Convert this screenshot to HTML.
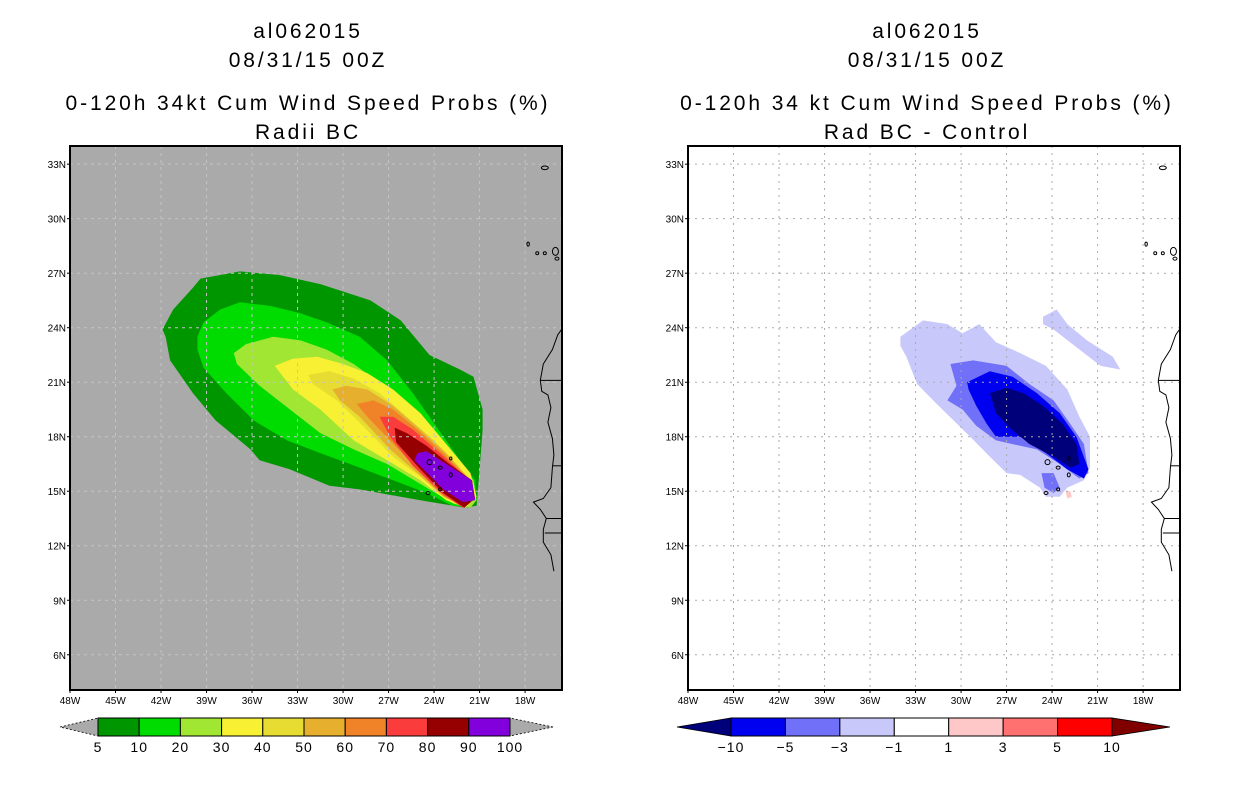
<!DOCTYPE html>
<html><head><meta charset="utf-8">
<style>
body{margin:0;background:#fff;}
svg text{font-family:"Liberation Sans",sans-serif;}
</style></head>
<body>
<svg id="chart" width="1236" height="800" viewBox="0 0 1236 800" xmlns="http://www.w3.org/2000/svg">
<g font-size="21" text-anchor="middle" fill="#000" letter-spacing="2.9">
<text x="308" y="38">al062015</text>
<text x="308" y="67">08/31/15 00Z</text>
<text x="308" y="110">0-120h 34kt Cum Wind Speed Probs (%)</text>
<text x="308" y="139">Radii BC</text>
<text x="927" y="38">al062015</text>
<text x="927" y="67">08/31/15 00Z</text>
<text x="927" y="110">0-120h 34 kt Cum Wind Speed Probs (%)</text>
<text x="927" y="139">Rad BC - Control</text>
</g>
<g id="left"></g>
<g id="right"></g>
<g id="cbars"></g>
</svg>
<script>
// ---- data ----
const latTicks=[33,30,27,24,21,18,15,12,9,6];
const lonTicks=[-48,-45,-42,-39,-36,-33,-30,-27,-24,-21,-18];
const leftLevels=[5,10,20,30,40,50,60,70,80,90,100];
const leftColors=['#009600','#00dc00','#a0e632','#f8f032','#e6dc32','#e6af2d','#f08228','#fa3c3c','#960000','#8200dc'];
const rightLevels=[-10,-5,-3,-1,1,3,5,10];
const rightColors=['#00007a','#0000f0','#7070f8','#c8c8fa','#ffffff','#ffc8c8','#ff7070','#ff0000','#800000'];
const prob5=[[-41.9,23.9],[-41.2,25.0],[-39.9,26.2],[-39.4,26.7],[-36.8,27.1],[-34.2,26.9],[-31.5,26.4],[-28.2,25.5],[-26.2,24.4],[-24.3,22.5],[-22.3,21.7],[-21.4,21.3],[-20.8,19.5],[-20.8,18.4],[-21.0,16.2],[-21.2,14.2],[-22.0,14.1],[-24.9,14.5],[-28.9,15.1],[-30.9,15.3],[-33.5,16.2],[-35.5,16.7],[-36.1,17.3],[-38.4,18.9],[-39.9,20.4],[-41.4,22.2],[-41.7,23.5]];
const prob10=[[-39.6,23.5],[-39.2,24.3],[-38.1,25.0],[-36.8,25.4],[-34.8,25.2],[-32.8,24.8],[-31.1,24.3],[-28.9,23.5],[-27.1,22.2],[-25.4,20.4],[-23.8,18.5],[-22.3,16.7],[-21.3,15.6],[-21.2,14.5],[-21.6,14.1],[-22.8,14.2],[-24.5,14.9],[-26.7,15.6],[-28.9,16.3],[-31.5,17.1],[-33.7,17.8],[-35.9,18.9],[-37.7,20.4],[-39.2,21.8],[-39.6,22.8]];
const prob20=[[-37.2,22.6],[-36.4,23.1],[-34.6,23.5],[-32.8,23.3],[-31.1,22.8],[-29.3,22.0],[-27.8,21.1],[-26.2,19.8],[-24.5,18.2],[-22.7,16.7],[-21.4,15.6],[-21.2,14.5],[-21.6,14.1],[-22.7,14.3],[-24.9,15.4],[-27.1,16.5],[-29.3,17.3],[-31.5,18.2],[-33.5,19.5],[-35.5,20.8],[-37.0,22.0]];
const prob30=[[-34.5,21.9],[-33.3,22.3],[-31.7,22.4],[-30.0,22.0],[-28.4,21.5],[-26.7,20.6],[-24.9,19.3],[-23.2,17.6],[-21.6,16.0],[-21.2,14.7],[-21.9,14.1],[-23.2,14.5],[-24.9,15.6],[-27.1,16.7],[-29.3,17.8],[-31.5,19.5],[-33.3,20.6]];
const prob40=[[-32.3,21.4],[-30.9,21.6],[-29.3,21.2],[-27.6,20.4],[-25.8,19.1],[-24.0,17.8],[-22.3,16.3],[-21.4,15.1],[-21.9,14.2],[-23.2,14.6],[-24.9,15.8],[-26.7,16.9],[-28.7,18.6],[-30.4,20.0],[-32.0,20.9]];
const prob50=[[-30.7,20.6],[-29.8,20.8],[-28.4,20.6],[-26.7,19.7],[-24.9,18.4],[-23.2,17.1],[-21.6,15.6],[-21.4,14.7],[-22.1,14.2],[-23.4,14.7],[-25.1,16.0],[-26.9,17.3],[-28.9,19.1],[-30.2,20.0]];
const prob60=[[-29.1,19.8],[-28.0,20.0],[-26.7,19.5],[-25.1,18.4],[-23.4,17.1],[-21.9,15.8],[-21.4,14.7],[-22.1,14.2],[-23.4,14.8],[-25.1,16.2],[-26.9,17.8],[-28.4,19.1]];
const prob70=[[-27.6,19.1],[-26.7,19.1],[-25.4,18.4],[-23.6,17.1],[-21.9,15.8],[-21.3,14.7],[-22.1,14.1],[-23.4,14.8],[-25.4,16.4],[-26.9,18.0]];
const prob80=[[-26.6,18.5],[-25.8,18.2],[-24.5,17.5],[-23.0,16.5],[-21.5,15.6],[-21.3,14.6],[-22.0,14.1],[-23.4,14.9],[-24.9,16.2],[-26.5,17.7]];
const prob90=[[-25.1,17.1],[-24.5,17.2],[-23.2,16.5],[-21.5,15.6],[-21.3,14.5],[-22.1,14.4],[-23.4,15.1],[-24.7,16.2],[-25.3,16.7]];
const diffM1a=[[-34.0,23.5],[-32.5,24.4],[-30.9,24.2],[-29.9,23.7],[-28.8,24.2],[-27.7,23.2],[-26.1,22.6],[-24.4,21.9],[-23.0,20.6],[-22.2,19.1],[-21.5,18.0],[-21.5,16.3],[-21.9,15.6],[-23.0,15.2],[-23.5,14.7],[-24.4,14.7],[-24.8,15.2],[-26.1,15.9],[-27.0,16.0],[-28.1,16.9],[-29.4,18.0],[-30.5,18.9],[-31.6,19.8],[-32.9,20.9],[-33.6,22.4],[-34.0,23.0]];
const diffM1b=[[-24.6,24.6],[-23.7,25.0],[-23.0,24.2],[-21.7,23.3],[-20.0,22.4],[-19.5,21.7],[-20.8,21.9],[-22.2,22.8],[-23.9,23.9],[-24.6,24.2]];
const diffM3a=[[-30.7,22.0],[-29.2,22.2],[-27.0,21.9],[-25.5,20.9],[-23.9,20.0],[-22.8,18.7],[-21.9,17.6],[-21.6,16.0],[-22.2,15.7],[-23.5,16.5],[-25.0,17.3],[-26.1,17.5],[-27.7,17.8],[-29.0,18.6],[-29.9,19.5],[-30.9,20.0],[-30.3,20.8]];
const diffM3b=[[-24.7,16.0],[-23.9,16.0],[-23.5,15.2],[-23.9,14.9],[-24.5,15.2]];
const diffM5=[[-29.6,21.0],[-28.1,21.6],[-26.6,21.3],[-25.0,20.4],[-23.5,19.3],[-22.4,18.0],[-21.6,16.2],[-21.9,15.7],[-23.0,16.2],[-24.4,17.1],[-26.1,18.0],[-27.7,18.0],[-28.3,18.7],[-29.0,19.7],[-29.5,20.6]];
const diffM10=[[-28.1,20.4],[-27.0,20.7],[-25.9,20.4],[-24.6,19.7],[-23.3,18.7],[-22.4,17.6],[-22.2,16.5],[-22.8,16.3],[-23.9,16.9],[-25.5,17.6],[-26.8,18.5],[-27.7,19.3]];
const diffP1=[[-23.1,15.0],[-22.8,15.0],[-22.7,14.7],[-23.0,14.6]];
const coast=[[-15.6,23.9],[-15.85,23.6],[-16.2,22.8],[-16.8,22.0],[-17.0,21.1],[-16.9,20.5],[-16.5,20.3],[-16.3,19.6],[-16.5,18.8],[-16.2,17.9],[-16.1,17.0],[-16.2,16.3],[-16.3,15.2],[-16.8,14.6],[-17.45,14.4],[-17.0,14.0],[-16.6,13.5],[-16.8,12.9],[-16.8,12.2],[-16.3,11.5],[-16.1,10.6]];
const borders=[[[-17.0,21.1],[-15.6,21.1]],[[-16.2,16.4],[-15.6,16.4]],[[-16.6,13.5],[-15.6,13.5]],[[-16.7,12.7],[-15.6,12.7]]];
const islands=[[-16.7,32.8,3.5,1.8],[-16.0,28.2,3,4],[-16.7,28.1,1.5,1.5],[-17.8,28.6,1.2,2],[-17.2,28.1,1.5,1.5],[-15.9,27.8,2,1.5],[-24.3,16.6,2.5,2.5],[-23.6,16.3,2,1.5],[-22.9,16.8,1.2,1.5],[-22.9,15.9,1.5,2],[-23.6,15.1,1.5,1.5],[-24.4,14.9,2,1.5]];

const NS='http://www.w3.org/2000/svg';
function mk(tag,attrs,parent){const e=document.createElementNS(NS,tag);for(const k in attrs)e.setAttribute(k,attrs[k]);parent.appendChild(e);return e;}
const X0L=70,Y0=146,W=492,H=544,KX=15.17,KY=18.17;
function sx(x0,lon){return x0+(lon+48)*KX;}
function sy(lat){return Y0+(34-lat)*KY;}
function pts(x0,arr){return arr.map(p=>sx(x0,p[0]).toFixed(1)+','+sy(p[1]).toFixed(1)).join(' ');}

function panel(g,x0,bg,fills,gridColor,dash){
  const clipId='clip'+x0;
  const cp=mk('clipPath',{id:clipId},g);mk('rect',{x:x0,y:Y0,width:W,height:H},cp);
  const bgR=mk('rect',{x:x0,y:Y0,width:W,height:H,fill:bg},g);
  
  
  const inner=mk('g',{'clip-path':'url(#'+clipId+')'},g);
  fills.forEach(f=>{const p=mk('polygon',{points:pts(x0,f.d),fill:f.c},inner);
    
    });
  latTicks.forEach(t=>{const l=mk('line',{x1:x0,x2:x0+W,y1:sy(t),y2:sy(t),stroke:gridColor,'stroke-width':1,'stroke-dasharray':dash},inner);
    
    });
  lonTicks.forEach(t=>{const l=mk('line',{x1:sx(x0,t),x2:sx(x0,t),y1:Y0,y2:Y0+H,stroke:gridColor,'stroke-width':1,'stroke-dasharray':dash},inner);
    
    });
  const c=mk('polyline',{points:pts(x0,coast),fill:'none',stroke:'#000','stroke-width':1},inner);
  
  
  borders.forEach(b=>{const l=mk('polyline',{points:pts(x0,b),fill:'none',stroke:'#000','stroke-width':1},inner);
    
    });
  islands.forEach(i=>{const e=mk('ellipse',{cx:sx(x0,i[0]),cy:sy(i[1]),rx:i[2],ry:i[3],fill:'none',stroke:'#000','stroke-width':1},inner);
    
    });
  const fr=mk('rect',{x:x0,y:Y0,width:W,height:H,fill:'none',stroke:'#000','stroke-width':2},g);
  
  
  latTicks.forEach(t=>{const tx=mk('text',{x:x0-4,y:sy(t)+4,'font-size':10,'text-anchor':'end'},g);tx.textContent=t+'N';
    
    
    mk('line',{x1:x0-3,x2:x0,y1:sy(t),y2:sy(t),stroke:'#000'},g);});
  lonTicks.forEach(t=>{const tx=mk('text',{x:sx(x0,t),y:Y0+H+14,'font-size':10,'text-anchor':'middle'},g);tx.textContent=(-t)+'W';
    
    
    mk('line',{x1:sx(x0,t),x2:sx(x0,t),y1:Y0+H,y2:Y0+H+3,stroke:'#000'},g);});
}
panel(document.getElementById('left'),X0L,'#aaaaaa',[
 {d:prob5,c:leftColors[0],n:'contour-5'},{d:prob10,c:leftColors[1],n:'contour-10'},{d:prob20,c:leftColors[2],n:'contour-20'},
 {d:prob30,c:leftColors[3],n:'contour-30'},{d:prob40,c:leftColors[4],n:'contour-40'},{d:prob50,c:leftColors[5],n:'contour-50'},
 {d:prob60,c:leftColors[6],n:'contour-60'},{d:prob70,c:leftColors[7],n:'contour-70'},{d:prob80,c:leftColors[8],n:'contour-80'},
 {d:prob90,c:leftColors[9],n:'contour-90'}],'#c4c4c4','3,4');
panel(document.getElementById('right'),688,'#ffffff',[
 {d:diffM1a,c:rightColors[3],n:'diff-minus1-main'},{d:diffM1b,c:rightColors[3],n:'diff-minus1-north'},
 {d:diffM3a,c:rightColors[2],n:'diff-minus3'},{d:diffM3b,c:rightColors[2],n:'diff-minus3-blob'},
 {d:diffM5,c:rightColors[1],n:'diff-minus5'},{d:diffM10,c:rightColors[0],n:'diff-minus10'},{d:diffP1,c:rightColors[5],n:'diff-plus1'}],'#aaaaaa','2,5');

function colorbar(x0,x1,tipL,tipR,colors,tipColL,tipColR,name){
  const g=document.getElementById('cbars');
  const y1=718,y2=736,ym=727;
  const nb=colors.length;
  const bw=(x1-x0)/nb;
  const tl=mk('polygon',{points:`${tipL},${ym} ${x0},${y1} ${x0},${y2}`,fill:tipColL,stroke:'#000','stroke-width':0.8,'stroke-dasharray':tipColL=='#aaaaaa'?'2,2':'none'},g);
  
  
  const tr=mk('polygon',{points:`${tipR},${ym} ${x1},${y1} ${x1},${y2}`,fill:tipColR,stroke:'#000','stroke-width':0.8,'stroke-dasharray':tipColR=='#aaaaaa'?'2,2':'none'},g);
  
  
  colors.forEach((c,i)=>{const r=mk('rect',{x:x0+i*bw,y:y1,width:bw,height:y2-y1,fill:c,stroke:'#000','stroke-width':1},g);
    
    });
  return {g,bw};
}
let cb=colorbar(98,510,60,553,leftColors,'#aaaaaa','#aaaaaa','left-colorbar');
leftLevels.forEach((v,i)=>{const t=mk('text',{x:98+i*cb.bw,y:752,'font-size':14,'text-anchor':'middle','letter-spacing':1},cb.g);t.textContent=v;
  
  });
let cb2=colorbar(731,1112,677,1170,rightColors.slice(1,8),rightColors[0],rightColors[8],'right-colorbar');
rightLevels.forEach((v,i)=>{const t=mk('text',{x:731+i*cb2.bw,y:752,'font-size':14,'text-anchor':'middle','letter-spacing':1},cb2.g);t.textContent=(v<0?'\u2212'+(-v):v);
  
  });
</script>
</body></html>
